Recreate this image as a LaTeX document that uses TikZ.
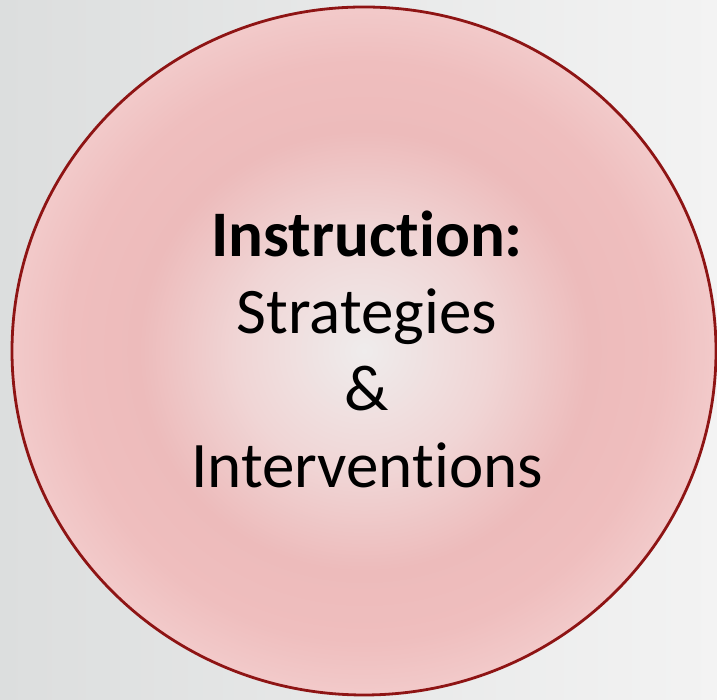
\documentclass[tikz,border=0pt]{standalone}
\usepackage{fontspec}
\setmainfont{Carlito}[Ligatures=NoCommon]
\definecolor{bgleft}{HTML}{DCDEDE}
\definecolor{bgright}{HTML}{F3F3F3}
\definecolor{ringred}{HTML}{8E1414}
\definecolor{pcenter}{HTML}{EFECEC}
\definecolor{pmid}{HTML}{F0D5D5}
\definecolor{pdeep}{HTML}{EDBBBB}
\definecolor{pring}{HTML}{EFBEBE}
\definecolor{pedge}{HTML}{F2CACA}
\pgfdeclareradialshading{pinkball}{\pgfpoint{0bp}{0bp}}{%
  color(0bp)=(pcenter); color(9bp)=(pmid); color(16bp)=(pdeep);
  color(21bp)=(pring); color(25bp)=(pedge); color(50bp)=(pedge)}
\tikzset{
  ball/.style={ellipse, draw=ringred, line width=2.8pt, shading=pinkball,
    minimum width=704pt, minimum height=688pt, inner sep=0pt},
  balltext/.style={align=center, font=\fontsize{65}{77}\selectfont, text=black}
}
\usetikzlibrary{shapes.geometric}
\begin{document}
\begin{tikzpicture}[x=1pt,y=1pt]
  \shade[left color=bgleft, right color=bgright] (0,0) rectangle (717,700);
  \useasboundingbox (0,0) rectangle (717,700);
  \node[ball] (circle) at (364,349) {};
  \node[balltext] (label) at (367,351) {\textbf{Instruction:}\\Strategies\\\&\\Interventions};
\end{tikzpicture}
\end{document}
